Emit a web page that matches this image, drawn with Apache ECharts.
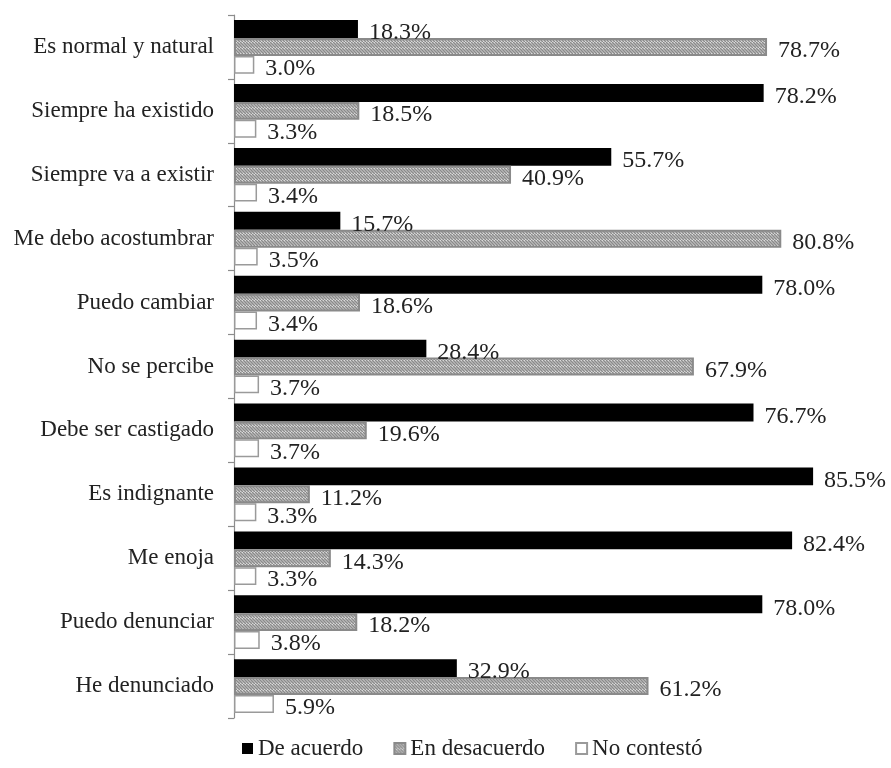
<!DOCTYPE html>
<html><head><meta charset="utf-8">
<script src="https://cdn.jsdelivr.net/npm/echarts@6/dist/echarts.min.js"></script>
<style>html,body{margin:0;padding:0;background:#fff}#c{width:891px;height:768px}</style>
</head><body><div id="c"></div>
<script>
const categories = ["Es normal y natural","Siempre ha existido","Siempre va a existir","Me debo acostumbrar","Puedo cambiar","No se percibe","Debe ser castigado","Es indignante","Me enoja","Puedo denunciar","He denunciado"];
const seriesNames = ["De acuerdo","En desacuerdo","No contestó"];
const deAcuerdo = [18.3,78.2,55.7,15.7,78.0,28.4,76.7,85.5,82.4,78.0,32.9];
const enDesacuerdo = [78.7,18.5,40.9,80.8,18.6,67.9,19.6,11.2,14.3,18.2,61.2];
const noContesto = [3.0,3.3,3.4,3.5,3.4,3.7,3.7,3.3,3.3,3.8,5.9];

function hatch(){
  const c=document.createElement('canvas');c.width=6;c.height=6;
  const g=c.getContext('2d');
  g.fillStyle='#ffffff';g.fillRect(0,0,6,6);
  g.strokeStyle='#8a8a8a';g.lineWidth=1.6;
  for(let k=-6;k<=12;k+=3){g.beginPath();g.moveTo(k,0);g.lineTo(k+6,6);g.stroke();}
  return c;
}
const hatchImg=hatch();
const font="'Liberation Serif','Times New Roman',serif";
const lbl={show:true,position:'right',distance:11,offset:[0,4],fontFamily:font,fontSize:24,color:'#222',formatter:p=>p.value.toFixed(1)+'%'};
const chart=echarts.init(document.getElementById('c'),null,{renderer:'canvas'});
chart.setOption({
  animation:false,
  grid:{left:234,right:0,top:15,bottom:50,containLabel:false},
  xAxis:{type:'value',min:0,max:97,show:false},
  yAxis:{type:'category',data:categories,inverse:true,
    axisLine:{show:true,lineStyle:{color:'#8c8c8c',width:1.2}},
    axisTick:{show:true,length:6,lineStyle:{color:'#8c8c8c',width:1.2}},
    axisLabel:{fontFamily:font,fontSize:23,color:'#222',margin:20}},
  legend:{bottom:3,left:237,itemWidth:11,itemHeight:11,itemGap:30,icon:'rect',
    textStyle:{fontFamily:font,fontSize:23,color:'#222'},data:seriesNames},
  series:[
    {name:seriesNames[0],type:'bar',data:deAcuerdo,barGap:'0%',barCategoryGap:'16%',
     itemStyle:{color:'#000'},label:lbl},
    {name:seriesNames[1],type:'bar',data:enDesacuerdo,
     itemStyle:{color:{image:hatchImg,repeat:'repeat'},borderColor:'#8a8a8a',borderWidth:2},label:lbl},
    {name:seriesNames[2],type:'bar',data:noContesto,
     itemStyle:{color:'#fff',borderColor:'#9a9a9a',borderWidth:1.5},label:lbl}
  ]
});
</script></body></html>
